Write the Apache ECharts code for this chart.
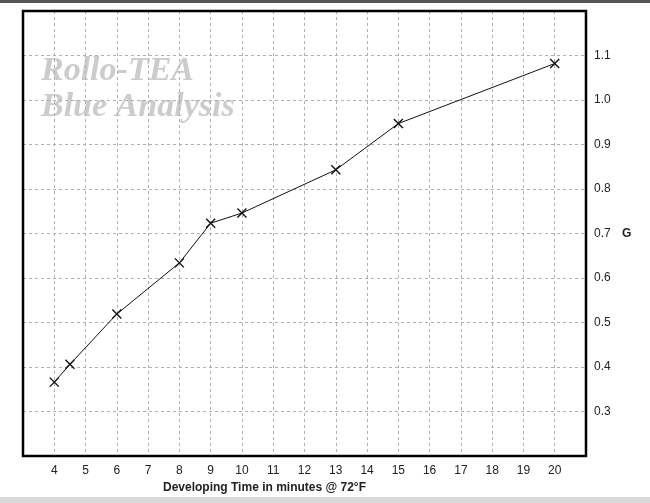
<!DOCTYPE html>
<html>
<head>
<meta charset="utf-8">
<script src="https://cdn.jsdelivr.net/npm/echarts@6/dist/echarts.min.js"></script>
<style>html,body{margin:0;padding:0;background:#fff;}#c{width:650px;height:503px;}</style>
</head>
<body>
<div id="c"></div>
<script>
var devTimes = [4, 4.5, 6, 8, 9, 10, 13, 15, 20];
var gValues = [0.366, 0.406, 0.519, 0.634, 0.723, 0.746, 0.843, 0.947, 1.082];
var xTicks = [4,5,6,7,8,9,10,11,12,13,14,15,16,17,18,19,20];
var yTicks = ['0.3','0.4','0.5','0.6','0.7','0.8','0.9','1.0','1.1'];
var titleLines = ['Rollo-TEA', 'Blue Analysis'];
var xName = 'Developing Time in minutes @ 72°F';
var yName = 'G';

var chart = echarts.init(document.getElementById('c'), null, {renderer: 'canvas'});
var pts = devTimes.map(function (t, i) { return [t, gValues[i]]; });
var labelFont = 'Liberation Sans, Arial, sans-serif';
chart.setOption({
  backgroundColor: '#ffffff',
  animation: false,
  grid: {left: 23, right: 64, top: 11, bottom: 47, show: true, borderColor: '#000', borderWidth: 2.5, backgroundColor: 'transparent', z: 5},
  xAxis: {
    type: 'value', min: 3, max: 21, interval: 1,
    axisLine: {show: false}, axisTick: {show: false},
    axisLabel: {
      margin: 9, color: '#222', fontSize: 12, fontFamily: labelFont,
      formatter: function (v) { return xTicks.indexOf(v) >= 0 ? String(v) : ''; }
    },
    splitLine: {show: true, lineStyle: {color: '#b0b0b0', type: [3, 3], width: 1}}
  },
  yAxis: {
    type: 'value', position: 'right', min: 0.2, max: 1.2, interval: 0.1,
    axisLine: {show: false}, axisTick: {show: false},
    name: yName, nameLocation: 'middle', nameRotate: 0, nameGap: 36,
    nameTextStyle: {color: '#222', fontSize: 12, fontWeight: 'bold', fontFamily: labelFont},
    axisLabel: {
      margin: 8, color: '#222', fontSize: 12, fontFamily: labelFont,
      formatter: function (v) { var s = v.toFixed(1); return yTicks.indexOf(s) >= 0 ? s : ''; }
    },
    splitLine: {show: true, lineStyle: {color: '#b0b0b0', type: [3, 3], width: 1}}
  },
  graphic: [
    {type: 'rect', shape: {x: 0, y: 0, width: 650, height: 3}, style: {fill: '#555555'}, z: 100},
    {type: 'rect', shape: {x: 0, y: 497, width: 650, height: 6}, style: {fill: '#d9d9d9'}, z: 100},
    {type: 'text', left: 41, top: 54, z: -10, style: {text: titleLines[0], fill: '#cccccc', font: 'italic bold 34px "Liberation Serif", serif'}},
    {type: 'text', left: 41, top: 90, z: -10, style: {text: titleLines[1], fill: '#cccccc', font: 'italic bold 34px "Liberation Serif", serif'}},
    {type: 'text', left: 163, top: 482, z: 10, style: {text: xName, fill: '#222', font: 'bold 12px "Liberation Sans", Arial, sans-serif'}}
  ],
  series: [{
    type: 'line', data: pts, z: 10,
    lineStyle: {color: '#111', width: 1},
    symbol: 'path://M0,0L10,10M10,0L0,10', symbolSize: 9,
    itemStyle: {color: 'rgba(0,0,0,0)', borderColor: '#111', borderWidth: 1.4}
  }]
});
</script>
</body>
</html>
